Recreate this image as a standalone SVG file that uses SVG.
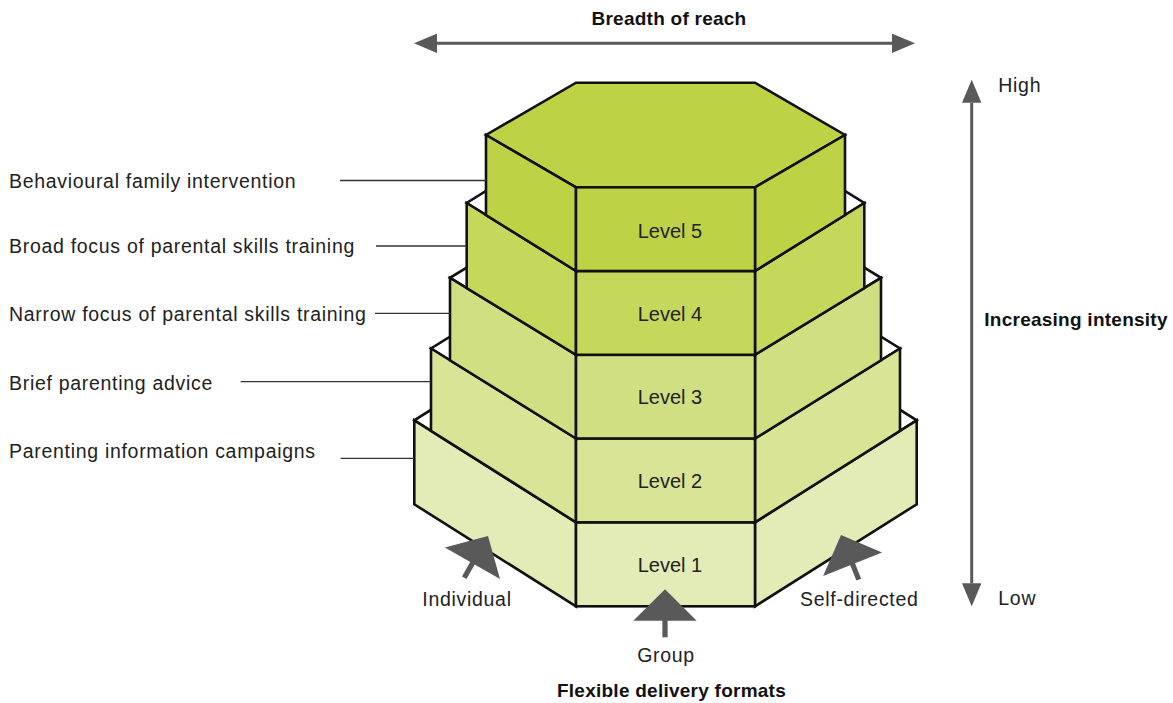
<svg xmlns="http://www.w3.org/2000/svg" xmlns:xlink="http://www.w3.org/1999/xlink" width="1173" height="703" viewBox="0 0 1173 703">
<style>
.edge{stroke:#111;stroke-width:2.6;stroke-linejoin:miter;stroke-miterlimit:4}
.tf{fill:#ffffff}
.c1{fill:#e3ebb7}
.c2{fill:#d9e497}
.c3{fill:#d0df82}
.c4{fill:#c5d85c}
.c5{fill:#bfd245}
text{font-family:"Liberation Sans",Arial,sans-serif}
.lbl{font-size:19.5px;letter-spacing:0.7px;fill:#222}
.lvl{font-size:20px;fill:#222;text-anchor:middle}
.bold{font-size:19px;font-weight:bold;letter-spacing:0.25px;fill:#111}
.leader{stroke:#333;stroke-width:1.3;fill:none}
.axis{stroke:#595959;stroke-width:3;fill:none}
.fmt{fill:#595959}
</style>
<defs>
<marker id="ah" viewBox="0 0 23 19.4" refX="0" refY="9.7" markerWidth="23" markerHeight="19.4" markerUnits="userSpaceOnUse" orient="auto-start-reverse">
<path d="M0,0 L23,9.7 L0,19.4 z" fill="#595959"/>
</marker>
<g id="fmtArrow">
<polygon class="fmt" points="0,0 31.7,31.4 -31.7,31.4"/>
<rect class="fmt" x="-2.6" y="30.5" width="5.2" height="17.5"/>
</g>
</defs>
<rect width="1173" height="703" fill="#ffffff"/>

<g id="level-1">
<polygon class="edge tf" points="576,522.3 414.3,420.3 576,318.3 755,318.3 916.7,420.3 755,522.3"/>
<polygon class="edge c1" points="576,522.3 414.3,420.3 414.3,504.3 576,606.3"/>
<polygon class="edge c1" points="755,522.3 916.7,420.3 916.7,504.3 755,606.3"/>
<rect class="edge c1" x="576" y="522.3" width="179" height="84"/>
<text class="lvl" x="670" y="571.7">Level 1</text>
</g>

<g id="level-2">
<polygon class="edge tf" points="576,438.5 431,348.5 576,258.5 755,258.5 900,348.5 755,438.5"/>
<polygon class="edge c2" points="576,438.5 431,348.5 431,430.8 576,522.3"/>
<polygon class="edge c2" points="755,438.5 900,348.5 900,430.8 755,522.3"/>
<rect class="edge c2" x="576" y="438.5" width="179" height="83.8"/>
<text class="lvl" x="670" y="488">Level 2</text>
</g>

<g id="level-3">
<polygon class="edge tf" points="576,354.8 450,277.8 576,200.8 755,200.8 881,277.8 755,354.8"/>
<polygon class="edge c3" points="576,354.8 450,277.8 450,360.3 576,438.5"/>
<polygon class="edge c3" points="755,354.8 881,277.8 881,360.3 755,438.5"/>
<rect class="edge c3" x="576" y="354.8" width="179" height="83.7"/>
<text class="lvl" x="670" y="404.4">Level 3</text>
</g>

<g id="level-4">
<polygon class="edge tf" points="576,271 466.7,203 576,135 755,135 864.3,203 755,271"/>
<polygon class="edge c4" points="576,271 466.7,203 466.7,288 576,354.8"/>
<polygon class="edge c4" points="755,271 864.3,203 864.3,288 755,354.8"/>
<rect class="edge c4" x="576" y="271" width="179" height="83.8"/>
<text class="lvl" x="670" y="320.7">Level 4</text>
</g>

<g id="level-5">
<polygon class="edge c5" points="576,187.3 486,135 576,82.7 755,82.7 845,135 755,187.3"/>
<polygon class="edge c5" points="576,187.3 486,135 486,215 576,271"/>
<polygon class="edge c5" points="755,187.3 845,135 845,215 755,271"/>
<rect class="edge c5" x="576" y="187.3" width="179" height="83.7"/>
<text class="lvl" x="670" y="238.3">Level 5</text>
</g>

<g id="connectors">
<line class="leader" x1="340" y1="180.5" x2="486" y2="180.5"/>
<line class="leader" x1="376" y1="246" x2="466.7" y2="246"/>
<line class="leader" x1="375" y1="313.3" x2="450" y2="313.3"/>
<line class="leader" x1="240.7" y1="381.7" x2="431" y2="381.7"/>
<line class="leader" x1="340.7" y1="458.3" x2="414.3" y2="458.3"/>
<line class="axis" x1="437" y1="43.3" x2="892" y2="43.3" marker-start="url(#ah)" marker-end="url(#ah)"/>
<line class="axis" x1="971.7" y1="102.7" x2="971.7" y2="583.3" marker-start="url(#ah)" marker-end="url(#ah)"/>
<use xlink:href="#fmtArrow" transform="translate(488,536) rotate(29.7)"/>
<use xlink:href="#fmtArrow" transform="translate(665,589.3)"/>
<use xlink:href="#fmtArrow" transform="translate(841,535) rotate(-21.7)"/>
</g>

<g id="labels">
<text class="bold" x="669" y="25" text-anchor="middle">Breadth of reach</text>
<text class="lbl" x="998.3" y="91.7">High</text>
<text class="bold" x="984.3" y="326">Increasing intensity</text>
<text class="lbl" x="998.3" y="605">Low</text>
<text class="lbl" x="9" y="188.3">Behavioural family intervention</text>
<text class="lbl" x="9" y="253.3">Broad focus of parental skills training</text>
<text class="lbl" x="9" y="321">Narrow focus of parental skills training</text>
<text class="lbl" x="9" y="390">Brief parenting advice</text>
<text class="lbl" x="9" y="458.3">Parenting information campaigns</text>
<text class="lbl" x="467" y="606" text-anchor="middle">Individual</text>
<text class="lbl" x="666" y="662" text-anchor="middle">Group</text>
<text class="lbl" x="800" y="606">Self-directed</text>
<text class="bold" x="671.5" y="697" text-anchor="middle">Flexible delivery formats</text>
</g>
</svg>
